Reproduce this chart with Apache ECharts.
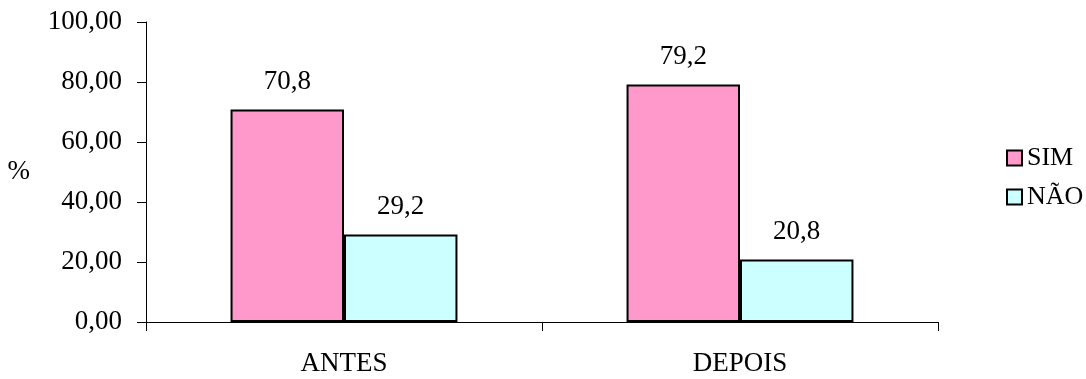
<!DOCTYPE html>
<html>
<head>
<meta charset="utf-8">
<script src="https://cdn.jsdelivr.net/npm/echarts@6/dist/echarts.min.js"></script>
<style>
	html, body { margin: 0; padding: 0; background: #fff; }
	#chart { width: 1086px; height: 379px; }
</style>
</head>
<body>
<div id="chart"></div>
<script>
// dados do gráfico
let categorias = ['ANTES', 'DEPOIS'];
let serieSim = [70.8, 79.2];
let serieNao = [29.2, 20.8];
let nomesSeries = ['SIM', 'NÃO'];

(function() {
	let myChart = echarts.init(document.getElementById('chart'));
	let fonte = '"Liberation Serif", "Times New Roman", serif';

	let option = {
		animation: false,
		textStyle: { fontFamily: fonte, color: '#000' },
		grid: {
			left: 146,
			right: 148,
			top: 22,
			bottom: 57
		},
		legend: {
			orient: 'vertical',
			left: 1001,
			top: 140,
			itemWidth: 15,
			itemHeight: 15,
			itemGap: 13,
			icon: 'rect',
			textStyle: { fontFamily: fonte, fontSize: 26, color: '#000' },
			data: nomesSeries
		},
		xAxis: {
			type: 'category',
			data: categorias,
			axisLine: { lineStyle: { color: '#000', width: 1 } },
			axisTick: { show: true, length: 9, lineStyle: { color: '#000' } },
			axisLabel: { fontFamily: fonte, fontSize: 27, color: '#000', margin: 28 }
		},
		yAxis: {
			type: 'value',
			min: 0,
			max: 100,
			interval: 20,
			name: '%',
			nameLocation: 'middle',
			nameRotate: 0,
			nameGap: 116,
			nameTextStyle: { fontFamily: fonte, fontSize: 27, color: '#000' },
			axisLine: { show: true, lineStyle: { color: '#000', width: 1 } },
			axisTick: { show: true, length: 9, lineStyle: { color: '#000' } },
			splitLine: { show: false },
			axisLabel: {
				fontFamily: fonte,
				fontSize: 27,
				color: '#000',
				margin: 24,
				formatter: function(v) {
					return v.toFixed(2).replace('.', ',');
				}
			}
		},
		series: [
			{
				name: nomesSeries[0],
				type: 'bar',
				barGap: '0%',
				barCategoryGap: '42.7%',
				itemStyle: { color: '#FF99CC', borderColor: '#000', borderWidth: 2 },
				label: {
					show: true,
					position: 'top',
					distance: 14,
					fontFamily: fonte,
					fontSize: 27,
					color: '#000',
					formatter: function(p) { return p.value.toFixed(1).replace('.', ','); }
				},
				data: serieSim
			},
			{
				name: nomesSeries[1],
				type: 'bar',
				barGap: '0%',
				barCategoryGap: '42.7%',
				itemStyle: { color: '#CCFFFF', borderColor: '#000', borderWidth: 2 },
				label: {
					show: true,
					position: 'top',
					distance: 14,
					fontFamily: fonte,
					fontSize: 27,
					color: '#000',
					formatter: function(p) { return p.value.toFixed(1).replace('.', ','); }
				},
				data: serieNao
			}
		]
	};

	myChart.setOption(option);

	window.addEventListener('resize', function() {
		myChart.resize();
	});
})();
</script>
</body>
</html>
